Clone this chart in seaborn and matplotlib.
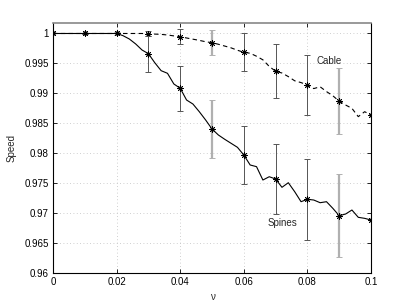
import numpy as np
import pandas as pd
import seaborn as sns
import matplotlib.pyplot as plt

# fine-grained runs, step 0.002
nu = np.round(np.arange(0, 0.1001, 0.002), 3)
cable = [1.0000, 1.0000, 1.0000, 1.0000, 1.0000, 1.0000, 1.0000, 1.0000,
         1.0000, 1.0000, 1.0000, 1.0000, 1.0000, 1.0000, 1.0000, 0.99995,
         0.99990, 0.99985, 0.99975, 0.99960, 0.99947,
         0.99925, 0.99905, 0.99885, 0.99862, 0.99846,
         0.99820, 0.99790, 0.99760, 0.99720, 0.99686,
         0.99670, 0.99620, 0.99560, 0.99450, 0.99369,
         0.99340, 0.99280, 0.99210, 0.99180, 0.99140,
         0.99080, 0.99110, 0.99030, 0.98960, 0.98868,
         0.98806, 0.98750, 0.98611, 0.98694, 0.98639]
spines = [1.0000] * 11 + [
         0.99964, 0.99908, 0.99825, 0.99724, 0.99663,
         0.99512, 0.99379, 0.99335, 0.99157, 0.99085,
         0.98889, 0.98822, 0.98694, 0.98555, 0.98405,
         0.98305, 0.98233, 0.98166, 0.98099, 0.97971,
         0.97804, 0.97776, 0.97553, 0.97608, 0.97570,
         0.97431, 0.97508, 0.97358, 0.97191, 0.97231,
         0.97219, 0.97174, 0.97191, 0.97080, 0.96957,
         0.96985, 0.97052, 0.96930, 0.96913, 0.96885]

# error bars every 0.01
nu_mark = [0.0, 0.01, 0.02, 0.03, 0.04, 0.05, 0.06, 0.07, 0.08, 0.09, 0.1]
cable_err = [0, 0.0001, 0.0003, 0.0004, 0.0012, 0.0021, 0.0032, 0.0045, 0.0050, 0.0055, 0]
spines_err = [0, 0.0001, 0.0003, 0.0030, 0.0038, 0.0049, 0.0049, 0.0058, 0.0068, 0.0069, 0]

df = pd.DataFrame({"nu": nu, "Cable": cable, "Spines": spines})

sns.set_style("ticks")
plt.rcParams['font.family'] = ['Liberation Sans', 'DejaVu Sans']
plt.rcParams['font.size'] = 7

fig = plt.figure(figsize=(4.09, 3.08), dpi=100)
ax = fig.add_axes([0.1296, 0.1136, 0.7775, 0.8117])

sns.lineplot(data=df, x="nu", y="Spines", color="black", lw=0.8, ax=ax)
sns.lineplot(data=df, x="nu", y="Cable", color="black", lw=0.8, ax=ax)
ax.lines[1].set_dashes([4, 3])

gray_idx = [2, 5, 9]
mk = dict(marker=(8, 2, 0), ms=4.5, mew=0.6, mec="black", ls="none")
for col, err in [("Cable", cable_err), ("Spines", spines_err)]:
    vals = df[col].values[::5]
    for i in range(len(nu_mark)):
        if i in gray_idx:
            c, w = "#b0b0b0", 1.6
        else:
            c, w = "#555555", 0.7
        ax.errorbar(nu_mark[i], vals[i], yerr=err[i], fmt="none",
                    ecolor=c, elinewidth=w, capsize=2.5, capthick=0.7)
    ax.plot(nu_mark, vals, **mk)

ax.text(0.0829, 0.9954, "Cable", fontsize=7, va="center", ha="left")
ax.text(0.0675, 0.9683, "Spines", fontsize=7, va="center", ha="left")

ax.set_xlim(0, 0.1)
ax.set_ylim(0.96, 1.00175)
ax.set_xticks([0, 0.02, 0.04, 0.06, 0.08, 0.1])
ax.set_xticklabels(["0", "0.02", "0.04", "0.06", "0.08", "0.1"])
ax.set_yticks([0.96, 0.965, 0.97, 0.975, 0.98, 0.985, 0.99, 0.995, 1.0])
ax.set_yticklabels(["0.96", "0.965", "0.97", "0.975", "0.98", "0.985", "0.99", "0.995", "1"])
ax.grid(True, ls=(0, (1, 3)), color="#c0c0c0", lw=0.6)
ax.tick_params(direction="in", length=3, width=0.6, top=True, right=True,
               labelsize=7, pad=3, colors="black")
for s in ["left", "bottom", "right"]:
    ax.spines[s].set_color("black")
    ax.spines[s].set_linewidth(0.8)
ax.spines["top"].set_color("#888888")
ax.spines["top"].set_linewidth(1.2)

ax.set_xlabel("ν", fontsize=7)
ax.set_ylabel("Speed", fontsize=7)
ax.xaxis.set_label_coords(0.5, -0.075)
ax.yaxis.set_label_coords(-0.115, 0.5)

fig.savefig("out.png", dpi=100)
